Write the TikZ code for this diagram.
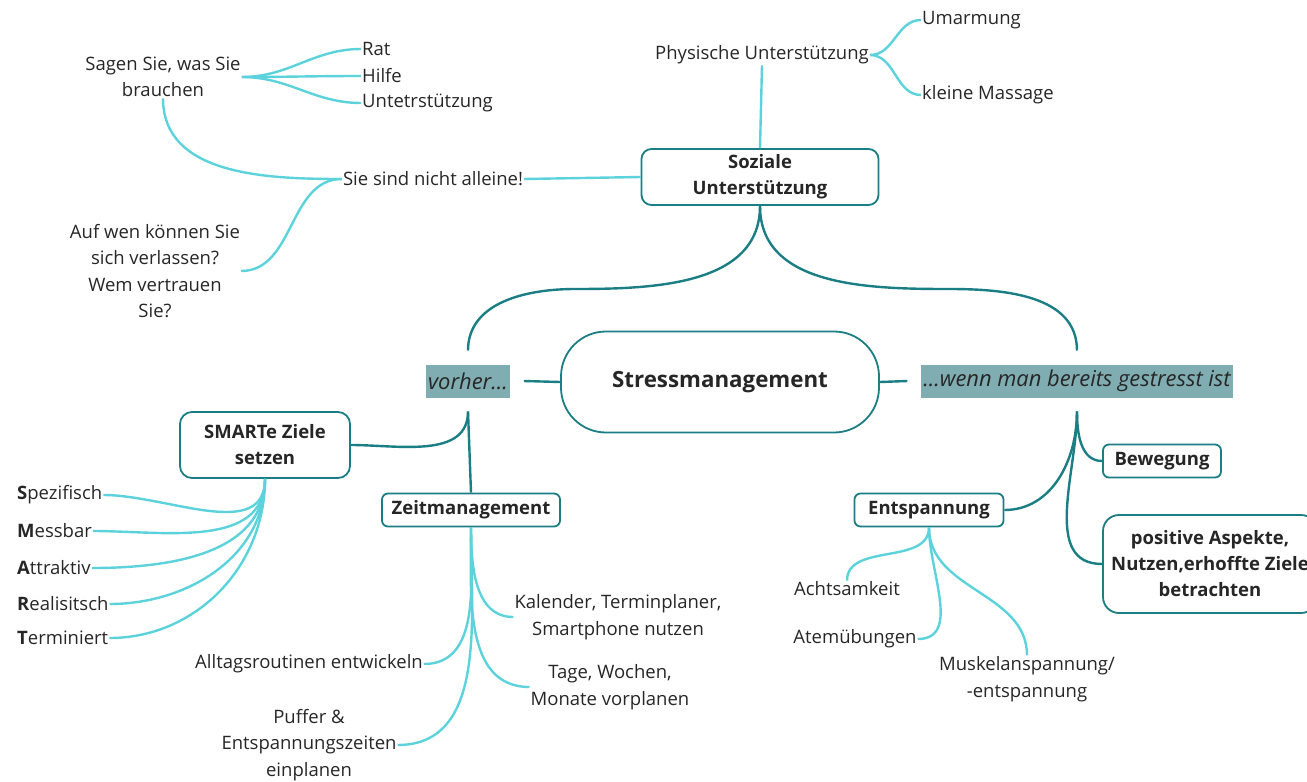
\documentclass[tikz,border=0pt]{standalone}
\usepackage{fontspec}
\setmainfont{Open Sans}
\definecolor{mapteal}{HTML}{1A7E84}
\definecolor{mapcyan}{HTML}{5CD3DC}
\definecolor{maphigh}{HTML}{80ADB1}
\definecolor{maptext}{HTML}{262626}
\tikzstyle{topic}=[draw=mapteal, line width=1.8pt, fill=white, rounded corners=8pt, align=center, font=\fontsize{18.5}{26}\selectfont\bfseries, text=maptext, inner sep=2pt]
\tikzstyle{phase}=[fill=maphigh, font=\fontsize{21.9}{26}\selectfont\itshape, text=maptext, inner xsep=2pt, minimum height=33pt, outer sep=14pt]
\tikzstyle{leaf}=[align=center, font=\fontsize{18.5}{26.5}\selectfont, text=maptext, inner sep=1pt, yshift=-2pt]
\tikzstyle{branch}=[draw=mapteal, line width=2.4pt]
\tikzstyle{twig}=[draw=mapcyan, line width=2.4pt]

\begin{document}
\begin{tikzpicture}[x=1pt, y=1pt]
      \path[use as bounding box, clip] (0,0) rectangle (1307,-782);
      \node[topic, minimum width=318pt, minimum height=101pt, rounded corners=45pt, font=\fontsize{22.3}{26}\selectfont\bfseries] (stress) at (720,-382) {Stressmanagement};
      \node[phase] (vorher) at (468,-381) {vorher...};
      \node[phase] (wenn) at (1077,-381) {...wenn man bereits gestresst ist};
      \node[topic, minimum width=237pt, minimum height=56pt, rounded corners=10pt] (soz) at (760,-177) {Soziale\\Unterstützung};
      \node[topic, minimum width=170pt, minimum height=66pt, rounded corners=12pt] (smart) at (265,-445) {SMARTe Ziele\\setzen};
      \node[topic, minimum width=178pt, minimum height=33pt, rounded corners=6pt] (zeit) at (471,-510) {Zeitmanagement};
      \node[topic, minimum width=149pt, minimum height=33pt, rounded corners=6pt] (ent) at (929,-510) {Entspannung};
      \node[topic, minimum width=118pt, minimum height=33pt, rounded corners=6pt] (bew) at (1162,-461) {Bewegung};
      \node[topic, minimum width=214pt, minimum height=98pt, rounded corners=16pt] (pos) at (1210,-564) {positive Aspekte,\\Nutzen,erhoffte Ziele\\betrachten};

      \node[leaf] (phys) at (762,-53) {Physische Unterstützung};
      \node[leaf, anchor=west] (umarm) at (921,-18) {Umarmung};
      \node[leaf, anchor=west] (massage) at (921,-93) {kleine Massage};
      \node[leaf] (sie) at (433,-177) {Sie sind nicht alleine!};
      \node[leaf] (sagen) at (163,-75) {Sagen Sie, was Sie\\brauchen};
      \node[leaf, anchor=west] (rat) at (361,-47) {Rat};
      \node[leaf, anchor=west] (hilfe) at (361,-74) {Hilfe};
      \node[leaf, anchor=west] (unter) at (361,-101) {Untetrstützung};
      \node[leaf] (auf) at (155,-269) {Auf wen können Sie\\sich verlassen?\\Wem vertrauen\\Sie?};

      \node[leaf, anchor=west] (spez) at (16,-493) {\textbf{S}pezifisch};
      \node[leaf, anchor=west] (mess) at (16,-529) {\textbf{M}essbar};
      \node[leaf, anchor=west] (attr) at (16,-566) {\textbf{A}ttraktiv};
      \node[leaf, anchor=west] (real) at (16,-602) {\textbf{R}ealisitsch};
      \node[leaf, anchor=west] (term) at (16,-636) {\textbf{T}erminiert};

      \node[leaf] (kal) at (618,-615) {Kalender, Terminplaner,\\Smartphone nutzen};
      \node[leaf, anchor=east] (alltag) at (424,-662) {Alltagsroutinen entwickeln};
      \node[leaf] (tage) at (610,-685) {Tage, Wochen,\\Monate vorplanen};
      \node[leaf] (puffer) at (309,-743) {Puffer \&\\Entspannungszeiten\\einplanen};

      \node[leaf] (acht) at (847,-587) {Achtsamkeit};
      \node[leaf] (atem) at (855,-637) {Atemübungen};
      \node[leaf] (musk) at (1027,-677) {Muskelanspannung/\\-entspannung};

      \coordinate (lbend) at (575,-289);
      \coordinate (rbend) at (950,-289);

      \draw[branch] (soz.south) to[out=-90, in=0] (lbend) to[out=180, in=90] (vorher.north);
      \draw[branch] (soz.south) to[out=-90, in=180] (rbend) to[out=0, in=90] (wenn.north);
      \draw[branch] (vorher.east) -- (stress.west);
      \draw[branch] (stress.east) -- (wenn.west);
      \draw[branch] (vorher.south) -- (zeit.north);
      \draw[branch] (vorher.south) to[out=-90, in=0] (smart.east);
      \draw[branch] (wenn.south) to[out=-90, in=180] (bew.west);
      \draw[branch] (wenn.south) to[out=-90, in=0] (ent.east);
      \draw[branch] (wenn.south) to[out=-90, in=180] (pos.west);

      \draw[twig] (phys.south) -- (soz.north);
      \draw[twig] (phys.east) to[out=0, in=180] (umarm.west);
      \draw[twig] (phys.east) to[out=0, in=180] (massage.west);
      \draw[twig] (sie.east) -- (soz.west);
      \draw[twig] (sie.west) to[out=180, in=-90] (sagen.south);
      \draw[twig] (sie.west) to[out=180, in=0] (auf.east);
      \draw[twig] (sagen.east) to[out=0, in=180] (rat.west);
      \draw[twig] (sagen.east) to[out=0, in=180] (hilfe.west);
      \draw[twig] (sagen.east) to[out=0, in=180] (unter.west);

      \foreach \leafname in {spez, mess, attr, real, term}
        \draw[twig] (smart.south) to[out=-90, in=0] (\leafname.east);

      \draw[twig] (zeit.south) to[out=-90, in=180] (kal.west);
      \draw[twig] (zeit.south) to[out=-90, in=0] (alltag.east);
      \draw[twig] (zeit.south) to[out=-90, in=180] (tage.west);
      \draw[twig] (zeit.south) to[out=-90, in=0] (puffer.east);

      \draw[twig] (ent.south) to[out=-90, in=90] (acht.north);
      \draw[twig] (ent.south) to[out=-90, in=0] (atem.east);
      \draw[twig] (ent.south) to[out=-90, in=90] (musk.north);
    \end{tikzpicture}
\end{document}
